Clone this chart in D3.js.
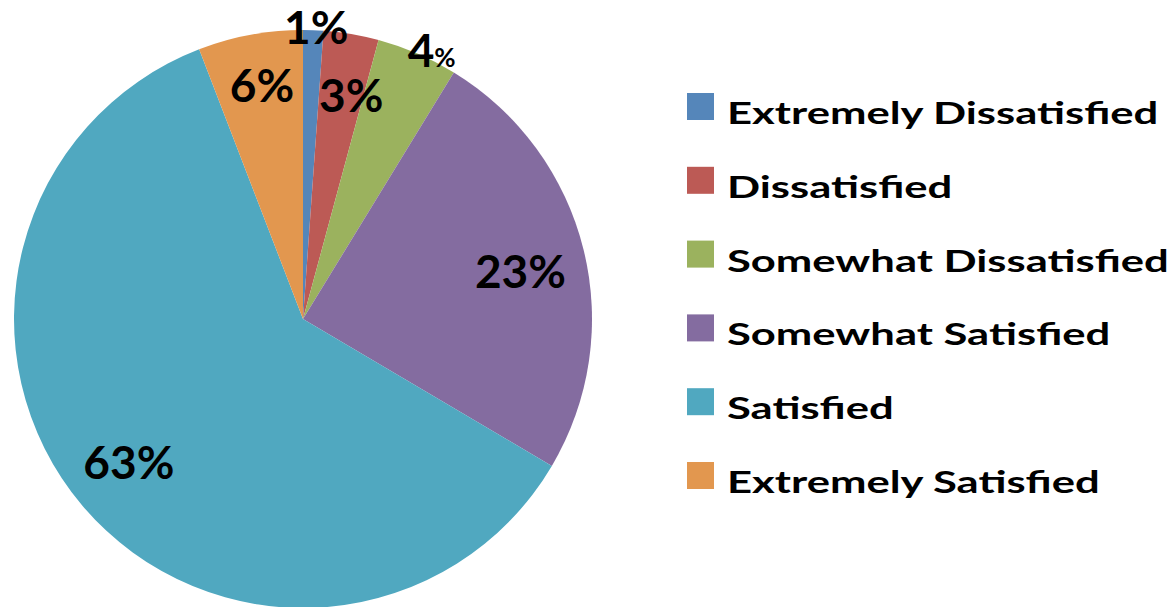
<!DOCTYPE html>
<html>
<head>
<meta charset="utf-8">
<script src="https://cdn.jsdelivr.net/npm/d3@7"></script>
<style>
  html, body { margin: 0; padding: 0; background: #fff; }
  svg { display: block; }
  text { font-family: Lato, "Open Sans", sans-serif; font-weight: 700; fill: #000; }
</style>
</head>
<body>
<svg id="chart" width="1176" height="607"></svg>
<script>
// ---- data ----
const categories = ["Extremely Dissatisfied", "Dissatisfied", "Somewhat Dissatisfied",
                    "Somewhat Satisfied", "Satisfied", "Extremely Satisfied"];
const values = [1.13, 3.08, 4.53, 24.75, 60.66, 5.85];
const labelTexts = ["1%", "3%", "4%", "23%", "63%", "6%"];
const colors = ["#5586BA", "#BC5A55", "#9BB25E", "#846CA0", "#50A8C0", "#E2974F"];

// ---- layout ----
const W = 1176, H = 607;
const cx = 303, cy = 319, R = 289;
const labelRadiusFactor = [1.01, 0.79, 1.03, 0.77, 0.78, 0.82];
const labelAngleShift = [0.01, 0.045, 0.04, 0.03, 0.015, 0.01]; // radians
const labelFont = 46;

const svg = d3.select("#chart");
const g = svg.append("g").attr("transform", `translate(${cx},${cy})`);

const pie = d3.pie().value(d => d).sort(null);
const arcs = pie(values);
const arc = d3.arc().innerRadius(0).outerRadius(R);

g.selectAll("path.slice")
  .data(arcs)
  .join("path")
  .attr("class", "slice")
  .attr("d", arc)
  .attr("fill", (d, i) => colors[i]);

// labels
const lbl = g.selectAll("text.lbl")
  .data(arcs)
  .join("text")
  .attr("class", "lbl")
  .attr("text-anchor", "middle")
  .style("font-size", labelFont + "px")
  .attr("x", (d, i) => {
    const a = (d.startAngle + d.endAngle) / 2 + labelAngleShift[i];
    return Math.sin(a) * R * labelRadiusFactor[i];
  })
  .attr("y", (d, i) => {
    const a = (d.startAngle + d.endAngle) / 2 + labelAngleShift[i];
    return -Math.cos(a) * R * labelRadiusFactor[i] + labelFont * 0.36;
  });

lbl.each(function(d, i) {
  const t = d3.select(this);
  const s = labelTexts[i];
  if (i === 2) {
    t.append("tspan").text(s.replace("%", ""));
    t.append("tspan").style("font-size", "26px").text("%");
  } else {
    t.text(s);
  }
});

// legend
const legendX = 687, legendY0 = 93, legendStep = 73.8, sq = 27;
const leg = svg.append("g");
const rows = leg.selectAll("g.row")
  .data(categories)
  .join("g")
  .attr("class", "row")
  .attr("transform", (d, i) => `translate(${legendX},${legendY0 + i * legendStep})`);

rows.append("rect")
  .attr("width", sq).attr("height", sq)
  .attr("fill", (d, i) => colors[i]);

const legFont = 31;
const texts = rows.append("text")
  .attr("x", 40)
  .attr("y", 31)
  .style("font-size", legFont + "px")
  .text(d => d);

// horizontally fit so the longest label matches the reference width
let maxW = 0;
texts.each(function() { maxW = Math.max(maxW, this.getComputedTextLength()); });
const targetW = 442;
const sx = targetW / maxW;
texts.attr("transform", `translate(40,0) scale(${sx},1) translate(-40,0)`);
</script>
</body>
</html>
